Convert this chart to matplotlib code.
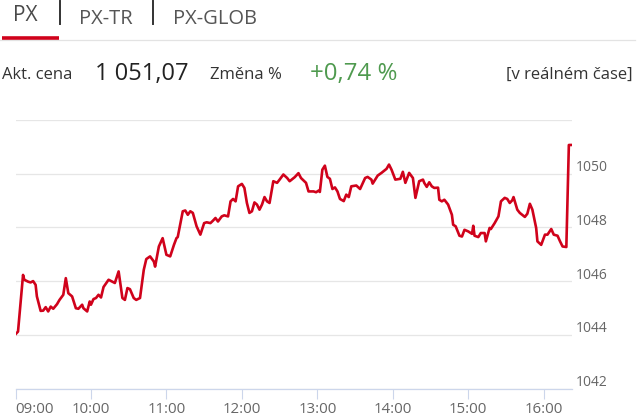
import matplotlib
matplotlib.use("Agg")
import matplotlib.pyplot as plt
from matplotlib.lines import Line2D
from matplotlib.transforms import ScaledTranslation

# PX index intraday, minutes after 09:00
minutes = [0, 2, 6, 7, 10, 12, 14, 16, 17, 20, 22, 24, 26, 28, 30, 33, 35, 38, 40, 42,
           45, 48, 50, 53, 54, 57, 59, 60, 62, 64, 66, 68, 70, 74, 77, 79, 82, 85, 87, 89,
           91, 94, 96, 99, 102, 104, 107, 110, 111, 114, 117, 120, 123, 126, 128, 129, 133, 135, 137, 139,
           141, 144, 147, 150, 152, 155, 157, 159, 161, 164, 166, 169, 171, 173, 175, 177, 180, 182, 184, 186,
           188, 190, 192, 194, 196, 198, 200, 202, 205, 208, 210, 213, 216, 218, 222, 225, 227, 231, 233, 237,
           239, 241, 242, 244, 246, 248, 250, 252, 254, 256, 258, 261, 263, 265, 267, 271, 274, 278, 280, 283,
           284, 288, 291, 295, 297, 299, 302, 306, 308, 310, 313, 316, 318, 321, 324, 325, 327, 329, 331, 333,
           336, 337, 339, 341, 344, 347, 348, 350, 353, 355, 357, 360, 363, 364, 365, 368, 370, 373, 374, 377,
           378, 381, 384, 386, 389, 391, 393, 395, 396, 399, 401, 405, 407, 409, 411, 414, 415, 418, 421, 423,
           426, 428, 431, 433, 435, 438, 440, 442]
values = [1044.02, 1044.12, 1046.23, 1046.05, 1045.98, 1045.95, 1046.00, 1045.86, 1045.43, 1044.89,
          1044.90, 1045.03, 1044.87, 1045.05, 1044.97, 1045.14, 1045.30, 1045.49, 1046.11, 1045.55,
          1045.43, 1044.99, 1044.97, 1045.12, 1044.99, 1044.87, 1045.24, 1045.12, 1045.33, 1045.37,
          1045.49, 1045.39, 1045.78, 1046.05, 1045.98, 1045.93, 1046.36, 1045.37, 1045.30, 1045.74,
          1045.70, 1045.37, 1045.30, 1045.37, 1046.42, 1046.82, 1046.92, 1046.73, 1046.54, 1047.29,
          1047.60, 1046.98, 1046.92, 1047.35, 1047.60, 1047.64, 1048.60, 1048.63, 1048.47, 1048.60,
          1048.54, 1048.04, 1047.73, 1048.16, 1048.19, 1048.16, 1048.25, 1048.35, 1048.22, 1048.41,
          1048.45, 1048.41, 1048.97, 1049.06, 1048.97, 1049.53, 1049.62, 1049.47, 1048.91, 1048.54,
          1048.60, 1048.93, 1048.85, 1048.66, 1048.85, 1049.13, 1048.97, 1048.91, 1049.72, 1049.66,
          1049.78, 1049.97, 1049.84, 1049.72, 1049.87, 1050.02, 1049.84, 1049.66, 1049.34, 1049.34,
          1049.31, 1049.37, 1049.32, 1050.15, 1050.30, 1049.88, 1049.81, 1049.43, 1049.49, 1049.34,
          1049.06, 1048.98, 1049.22, 1049.13, 1049.53, 1049.56, 1049.43, 1049.84, 1049.88, 1049.78,
          1049.63, 1049.93, 1050.03, 1050.18, 1050.34, 1050.15, 1049.78, 1049.81, 1050.07, 1049.66,
          1050.03, 1049.84, 1049.10, 1049.72, 1049.78, 1049.66, 1049.51, 1049.68, 1049.53, 1049.47,
          1049.48, 1049.03, 1048.97, 1049.03, 1048.85, 1048.47, 1048.10, 1048.04, 1047.69, 1047.66,
          1047.91, 1047.85, 1047.76, 1048.06, 1047.69, 1047.64, 1047.79, 1047.79, 1047.48, 1047.98,
          1047.94, 1048.16, 1048.41, 1048.97, 1049.10, 1049.06, 1048.91, 1049.01, 1049.13, 1048.66,
          1048.54, 1048.39, 1048.51, 1048.88, 1048.66, 1047.98, 1047.48, 1047.35, 1047.73, 1047.73,
          1047.94, 1047.73, 1047.69, 1047.48, 1047.29, 1047.27, 1051.07, 1051.07]

hour_ticks = [0, 60, 120, 180, 240, 300, 360, 420]
hour_labels = ['09:00', '10:00', '11:00', '12:00', '13:00', '14:00', '15:00', '16:00']
y_ticks = [1042, 1044, 1046, 1048, 1050, 1052]
y_labels = ['1042', '1044', '1046', '1048', '1050', '']

tabs = ['PX', 'PX-TR', 'PX-GLOB']
price = '1 051,07'
change = '+0,74 %'

plt.rcParams['font.family'] = ['Open Sans', 'DejaVu Sans']

W, H = 640, 419
fig = plt.figure(figsize=(W / 100, H / 100), dpi=100)


def fx(x):
    return x / W


def fy(y):
    return 1 - y / H


# axes box in pixels: x 15.5..572, y 120..388.5
ax = fig.add_axes([fx(15.5), fy(388.5), (572 - 15.5) / W, (388.5 - 120) / H])
ax.plot(minutes, values, color='#d0021b', lw=1.9, solid_joinstyle='round')
ax.set_xlim(0, 442.5)
ax.set_ylim(1042, 1052)

for s in ['top', 'left', 'right']:
    ax.spines[s].set_visible(False)
ax.spines['bottom'].set_color('#ccd6eb')
ax.spines['bottom'].set_linewidth(0.9)

ax.set_xticks(hour_ticks)
ax.set_xticklabels(hour_labels)
ax.tick_params(axis='x', length=7.5, width=0.8, color='#ccd6eb', labelsize=10.8,
               labelcolor='#666666', pad=2)
ax.get_xticklabels()[0].set_horizontalalignment('left')

ax.yaxis.tick_right()
ax.set_yticks(y_ticks)
ax.set_yticklabels(y_labels)
ax.tick_params(axis='y', length=0, labelsize=10, labelcolor='#666666', pad=3)
ax.grid(axis='y', color='#e6e6e6', lw=0.9)
ax.set_axisbelow(True)
shift = ScaledTranslation(0, 8 / 100, fig.dpi_scale_trans)
for lab in ax.get_yticklabels():
    lab.set_transform(lab.get_transform() + shift)

# header tabs
fig.text(fx(13), fy(21), tabs[0], fontsize=15, color='#4a4a4a')
fig.text(fx(79), fy(24), tabs[1], fontsize=14.5, color='#555555')
fig.text(fx(173), fy(24), tabs[2], fontsize=14.5, color='#555555')
fig.add_artist(Line2D([fx(59.5), fx(59.5)], [fy(1), fy(24)], color='#333333', lw=1.4))
fig.add_artist(Line2D([fx(152.7), fx(152.7)], [fy(1), fy(24)], color='#333333', lw=1.4))
fig.add_artist(Line2D([fx(0), fx(635)], [fy(40), fy(40)], color='#e3e3e3', lw=0.9))
fig.add_artist(Line2D([fx(2), fx(59)], [fy(38), fy(38)], color='#d0021b', lw=2.6,
                      solid_capstyle='butt'))

# quote row
fig.text(fx(2), fy(79), 'Akt. cena', fontsize=12, color='#333333')
fig.text(fx(95), fy(80), price, fontsize=17, color='#222222')
fig.text(fx(210), fy(79), 'Změna %', fontsize=12, color='#333333')
fig.text(fx(310), fy(80), change, fontsize=17.3, color='#4f9a4f')
fig.text(fx(633), fy(79), '[v reálném čase]', fontsize=12, color='#333333', ha='right')

fig.savefig('out.png', dpi=100)
